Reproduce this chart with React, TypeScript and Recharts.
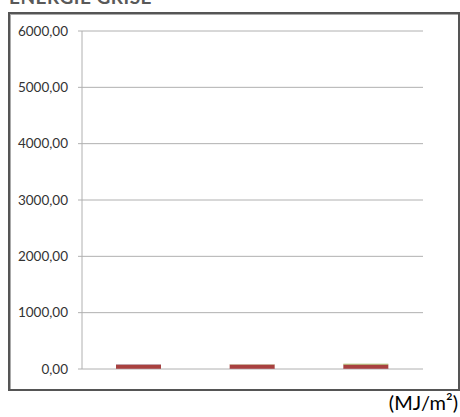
import { BarChart, Bar, XAxis, YAxis, CartesianGrid, Cell } from "recharts"

const categories = ["A", "B", "C"]
const baseValues = [3, 5, 5]
const mainValues = [76, 76, 76]
const topValues = [5, 9, 10]
const topColors = ["#95B3D7", "#C4BD97", "#9BBB59"]
const yTicks = [0, 1000, 2000, 3000, 4000, 5000, 6000]

const data = categories.map((c, i) => ({
  name: c,
  base: baseValues[i],
  main: mainValues[i],
  top: topValues[i],
}))

const fmt = (v: number) => v.toFixed(2).replace(".", ",")

export default function App() {
  return (
    <div style={{ position: "absolute", left: 0, top: 0, width: 460, height: 417, overflow: "hidden", background: "#fff", fontFamily: "Lato, sans-serif" }}>
      <div style={{ position: "absolute", left: 9, top: -15, fontSize: 19, fontWeight: 700, color: "#595959", letterSpacing: 0.5 }}>
        ENERGIE GRISE
      </div>
      <div style={{ position: "absolute", left: 8, top: 12, width: 448, height: 375, border: "2px solid #555", boxShadow: "inset 1px 1px 0 #aaa" }} />
      <div style={{ position: "absolute", left: 0, top: 0 }}>
        <BarChart width={460} height={417} data={data} margin={{ top: 31, right: 37, bottom: 48, left: 0 }}>
          <CartesianGrid vertical={false} stroke="#b0b0b0" />
          <XAxis dataKey="name" tick={false} tickLine={false} height={0} axisLine={{ stroke: "#b0b0b0" }} />
          <YAxis
            width={82}
            domain={[0, 6000]}
            ticks={yTicks}
            tickFormatter={fmt}
            interval={0}
            tickSize={4}
            tickMargin={10}
            axisLine={{ stroke: "#b0b0b0" }}
            tickLine={{ stroke: "#b0b0b0" }}
            tick={{ fill: "#333", fontSize: 13.5 }}
          />
          <Bar dataKey="base" stackId="s" fill="#8064A2" barSize={45} isAnimationActive={false} />
          <Bar dataKey="main" stackId="s" fill="#A8413F" barSize={45} isAnimationActive={false} />
          <Bar dataKey="top" stackId="s" barSize={45} isAnimationActive={false}>
            {data.map((d, i) => (
              <Cell key={d.name} fill={topColors[i]} />
            ))}
          </Bar>
        </BarChart>
      </div>
      <div style={{ position: "absolute", right: 2, top: 390, fontSize: 20, color: "#000" }}>(MJ/m²)</div>
    </div>
  )
}
